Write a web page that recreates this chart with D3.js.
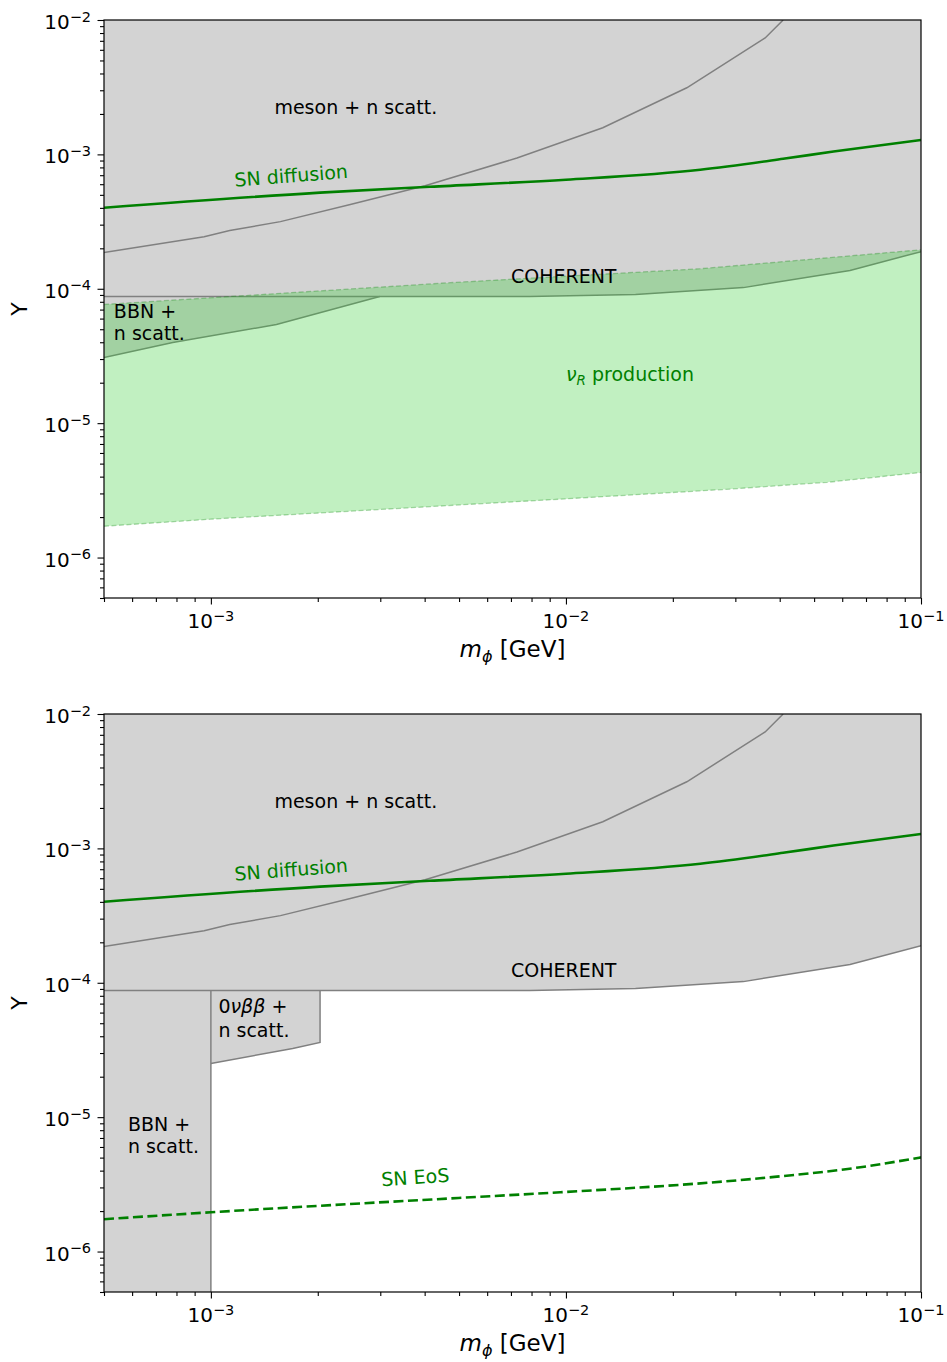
<!DOCTYPE html>
<html>
<head>
<meta charset="utf-8">
<script src="https://cdn.jsdelivr.net/npm/d3@7"></script>
<style>
body { margin: 0; background: #fff; }
svg text { font-family: "DejaVu Sans", sans-serif; }
</style>
</head>
<body>
<div id="chart"></div>
<script>
// curves: mass m_phi [GeV] and coupling Y
const mesonM = [5e-4, 9.57e-4, 1.13e-3, 1.57e-3, 2.47e-3, 4.01e-3, 7.28e-3, 1.27e-2, 2.19e-2, 3.64e-2, 4.09e-2];
const mesonY = [1.86e-4, 2.44e-4, 2.71e-4, 3.16e-4, 4.23e-4, 5.85e-4, 9.4e-4, 1.58e-3, 3.13e-3, 7.35e-3, 1e-2];

const diffM = [5e-4, 2.03e-3, 4.14e-3, 1e-2, 2.39e-2, 4.09e-2, 5.67e-2, 0.1];
const diffY = [4.01e-4, 5.19e-4, 5.74e-4, 6.48e-4, 7.69e-4, 9.27e-4, 1.05e-3, 1.28e-3];

const cohM = [5e-4, 7.9e-3, 1.57e-2, 3.16e-2, 6.31e-2, 0.1];
const cohY = [8.75e-5, 8.75e-5, 9.06e-5, 1.02e-4, 1.37e-4, 1.89e-4];

// top panel: BBN + n scatt. lower edge
const bbnM = [5e-4, 7.81e-4, 1.53e-3, 2.99e-3];
const bbnY = [3.08e-5, 3.98e-5, 5.42e-5, 8.75e-5];

// bottom panel: BBN band edge, 0vbb lower edge
const bbn2M = [5e-4, 1e-3];
const dbdM = [1e-3, 1.70e-3, 2.03e-3];
const dbdY = [2.51e-5, 3.24e-5, 3.6e-5];

// nu_R production band (top panel)
const nuTopM = [5e-4, 4.72e-3, 2.39e-2, 0.1];
const nuTopY = [7.64e-5, 1.11e-4, 1.41e-4, 1.95e-4];
const nuBotM = [5e-4, 1e-3, 9.64e-3, 2.84e-2, 5.45e-2, 0.1];
const nuBotY = [1.71e-6, 1.93e-6, 2.72e-6, 3.22e-6, 3.63e-6, 4.3e-6];

// SN EoS (bottom panel)
const eosM = [5e-4, 1e-3, 6.1e-3, 9.64e-3, 3.52e-2, 6.75e-2, 0.1];
const eosY = [1.74e-6, 1.96e-6, 2.58e-6, 2.76e-6, 3.51e-6, 4.24e-6, 5.02e-6];

const xDomain = [5e-4, 0.1];
const yDomain = [5e-7, 1e-2];

const W = 947, H = 1362;
const left = 104, pw = 817, ph = 578;
const panelTops = [20, 714];
const fs = 19;

const svg = d3.select("#chart").append("svg")
    .attr("width", W).attr("height", H)
    .style("background", "#fff");

function zip(ms, ys) { return ms.map((m, i) => [m, ys[i]]); }

function addText(g, x, y, parts, opts) {
    opts = opts || {};
    const t = g.append("text")
        .attr("x", x).attr("y", y)
        .attr("font-size", opts.size || fs)
        .attr("fill", opts.color || "black");
    if (opts.rotate) t.attr("transform", `rotate(${opts.rotate},${x},${y})`);
    if (opts.anchor) t.attr("text-anchor", opts.anchor);
    parts.forEach(p => {
        const s = t.append("tspan").text(p.t);
        if (p.italic) s.attr("font-style", "italic");
        if (p.size) s.attr("font-size", p.size);
        if (p.dy) s.attr("dy", p.dy);
    });
    return t;
}

function drawPanel(top, idx) {
    const g = svg.append("g").attr("transform", `translate(${left},${top})`);
    const x = d3.scaleLog().domain(xDomain).range([0, pw]);
    const y = d3.scaleLog().domain(yDomain).range([ph, 0]);

    g.append("clipPath").attr("id", "clip" + idx)
        .append("rect").attr("width", pw).attr("height", ph);
    const plot = g.append("g").attr("clip-path", `url(#clip${idx})`);

    const line = d3.line().x(d => x(d[0])).y(d => y(d[1]));
    const smooth = d3.line().x(d => x(d[0])).y(d => y(d[1])).curve(d3.curveMonotoneX);
    const above = d3.area().x(d => x(d[0])).y0(0).y1(d => y(d[1]));

    const grayFill = "#d3d3d3", edge = "#808080";

    // excluded regions
    plot.append("path").attr("d", above(zip(mesonM, mesonY))).attr("fill", grayFill);
    plot.append("path").attr("d", above(zip(cohM, cohY))).attr("fill", grayFill);
    if (idx === 0) {
        plot.append("path").attr("d", above(zip(bbnM, bbnY))).attr("fill", grayFill);
    } else {
        plot.append("path")
            .attr("d", d3.area().x(d => x(d)).y0(y(yDomain[0])).y1(y(yDomain[1]))(bbn2M))
            .attr("fill", grayFill);
        plot.append("path")
            .attr("d", d3.area().x(d => x(d[0])).y0(y(cohY[0])).y1(d => y(d[1]))(zip(dbdM, dbdY)))
            .attr("fill", grayFill);
    }

    // region edges
    const edges = [zip(mesonM, mesonY), zip(cohM, cohY)];
    if (idx === 0) {
        edges.push(zip(bbnM, bbnY));
    } else {
        edges.push([[bbn2M[1], yDomain[0]], [bbn2M[1], cohY[0]]]);
        edges.push(zip(dbdM, dbdY).concat([[dbdM[dbdM.length - 1], cohY[0]]]));
    }
    edges.forEach(e => plot.append("path").attr("d", line(e))
        .attr("fill", "none").attr("stroke", edge).attr("stroke-width", 1.5));

    if (idx === 0) {
        // nu_R production band
        const topPts = zip(nuTopM, nuTopY), botPts = zip(nuBotM, nuBotY);
        const poly = topPts.concat(botPts.slice().reverse());
        plot.append("path")
            .attr("d", line(poly) + "Z")
            .attr("fill", "limegreen").attr("fill-opacity", 0.3);
        [topPts, botPts].forEach(p => plot.append("path").attr("d", line(p))
            .attr("fill", "none").attr("stroke", "green").attr("stroke-opacity", 0.3)
            .attr("stroke-width", 1.3).attr("stroke-dasharray", "5,2.5"));
    } else {
        plot.append("path").attr("d", smooth(zip(eosM, eosY)))
            .attr("fill", "none").attr("stroke", "green")
            .attr("stroke-width", 2.6).attr("stroke-dasharray", "10,4.5");
    }

    // SN diffusion
    plot.append("path").attr("d", smooth(zip(diffM, diffY)))
        .attr("fill", "none").attr("stroke", "green").attr("stroke-width", 2.6);

    // labels
    addText(g, x(1.51e-3), y(2.0e-3), [{ t: "meson + n scatt." }]);
    addText(g, x(1.17e-3), y(5.74e-4), [{ t: "SN diffusion" }], { color: "green", rotate: -4.5 });
    addText(g, x(7.0e-3), y(1.11e-4), [{ t: "COHERENT" }]);
    if (idx === 0) {
        addText(g, x(5.33e-4), y(6.1e-5), [{ t: "BBN +" }]);
        addText(g, x(5.33e-4), y(6.1e-5) + 22, [{ t: "n scatt." }]);
        addText(g, x(1.0e-2), y(2.05e-5), [
            { t: "ν", italic: true },
            { t: "R", italic: true, size: 13.5, dy: 4 },
            { t: " production", dy: -4 }
        ], { color: "green" });
    } else {
        addText(g, x(1.05e-3), y(6.0e-5), [{ t: "0" }, { t: "νββ", italic: true }, { t: " +" }]);
        addText(g, x(1.05e-3), y(6.0e-5) + 24, [{ t: "n scatt." }]);
        addText(g, x(5.84e-4), y(7.85e-6), [{ t: "BBN +" }]);
        addText(g, x(5.84e-4), y(7.85e-6) + 22, [{ t: "n scatt." }]);
        addText(g, x(3.03e-3), y(3.06e-6), [{ t: "SN EoS" }], { color: "green", rotate: -3.8 });
    }

    // axes
    const isMajor = v => Math.abs(Math.log10(v) - Math.round(Math.log10(v))) < 1e-9;
    const xt = x.ticks(), yt = y.ticks();
    const xMaj = xt.filter(isMajor), xMin = xt.filter(v => !isMajor(v));
    const yMaj = yt.filter(isMajor), yMin = yt.filter(v => !isMajor(v));

    const styleAxis = a => {
        a.select(".domain").remove();
        a.selectAll("line").attr("stroke", "black").attr("stroke-width", 1.1);
        a.selectAll("text").remove();
    };
    g.append("g").attr("transform", `translate(0,${ph})`)
        .call(d3.axisBottom(x).tickValues(xMaj).tickSize(6.5).tickSizeOuter(0)).call(styleAxis);
    g.append("g").attr("transform", `translate(0,${ph})`)
        .call(d3.axisBottom(x).tickValues(xMin).tickSize(4).tickSizeOuter(0)).call(styleAxis);
    g.append("g")
        .call(d3.axisLeft(y).tickValues(yMaj).tickSize(6.5).tickSizeOuter(0)).call(styleAxis);
    g.append("g")
        .call(d3.axisLeft(y).tickValues(yMin).tickSize(4).tickSizeOuter(0)).call(styleAxis);

    const powParts = v => [{ t: "10" }, { t: "\u2212" + Math.round(-Math.log10(v)), size: 14.5, dy: -7.5 }];
    xMaj.forEach(v => addText(g, x(v), ph + 30, powParts(v), { anchor: "middle", size: 20 }));
    yMaj.forEach(v => addText(g, -13, y(v) + 9, powParts(v), { anchor: "end", size: 20 }));

    // frame
    g.append("rect").attr("width", pw).attr("height", ph)
        .attr("fill", "none").attr("stroke", "black").attr("stroke-width", 1.2);

    // axis titles
    addText(g, pw / 2, ph + 59, [
        { t: "m", italic: true },
        { t: "ϕ", italic: true, size: 16, dy: 5 },
        { t: " [GeV]", dy: -5 }
    ], { anchor: "middle", size: 23 });
    addText(g, 27 - left, ph / 2, [{ t: "Y" }], { anchor: "middle", rotate: -90, size: 22 });
}

panelTops.forEach((t, i) => drawPanel(t, i));
</script>
</body>
</html>
